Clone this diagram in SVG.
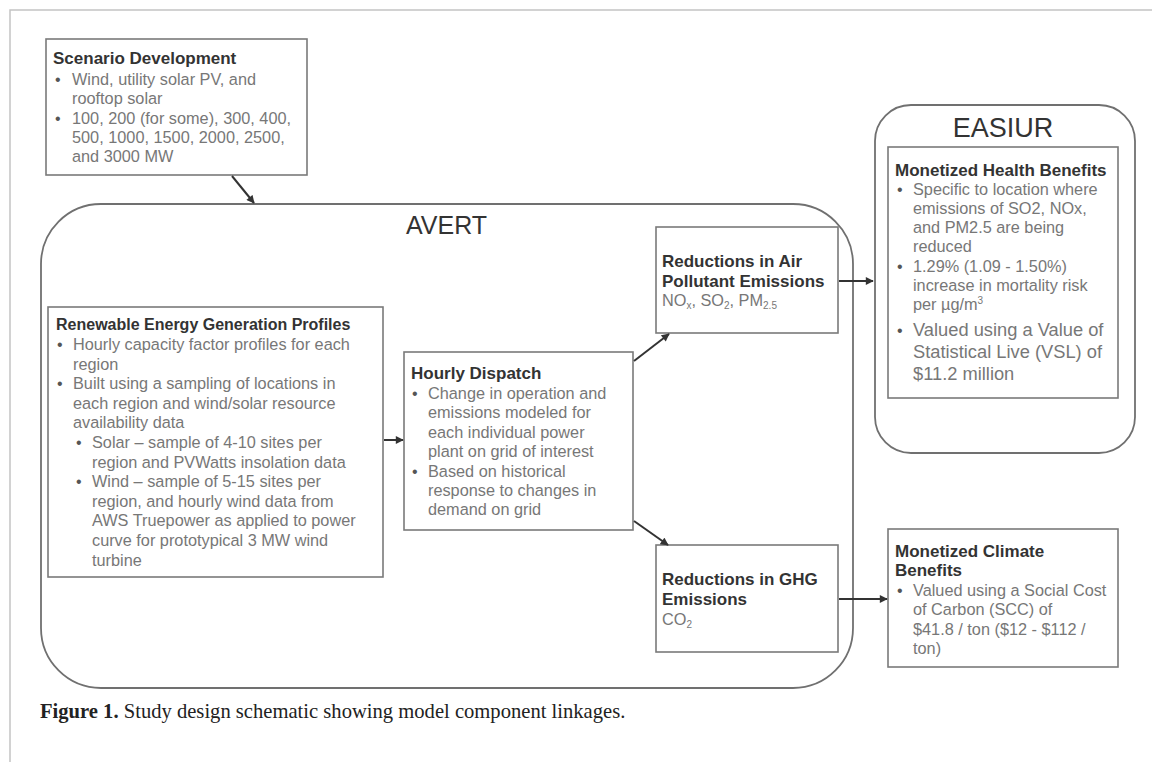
<svg xmlns="http://www.w3.org/2000/svg" width="1152" height="762" viewBox="0 0 1152 762">
<defs>
<marker id="arr" viewBox="0 0 10 10" refX="9" refY="5" markerWidth="9" markerHeight="8" markerUnits="userSpaceOnUse" orient="auto">
<path d="M0,0 L10,5 L0,10 Z" fill="#333"/>
</marker>
<style>
.frame{fill:none;stroke:#c4c4c4;stroke-width:1.5}
.box{fill:#fff;stroke:#7a7a7a;stroke-width:1.6}
.group{fill:none;stroke:#707070;stroke-width:1.8}
.t{font-family:"Liberation Sans",Arial,sans-serif;font-weight:bold;font-size:17px;fill:#333}
.b{font-family:"Liberation Sans",Arial,sans-serif;font-size:16.3px;fill:#777}
.bl{font-family:"Liberation Sans",Arial,sans-serif;font-size:16px;fill:#555}
.big{font-family:"Liberation Sans",Arial,sans-serif;font-size:26px;fill:#333}
.con{stroke:#333;stroke-width:2;fill:none;marker-end:url(#arr)}
.cap{font-family:"Liberation Serif","Times New Roman",serif;font-size:20.6px;fill:#222}
</style>
</defs>
<rect width="1152" height="762" fill="#fff"/>
<path class="frame" d="M10,762 V10 H1152"/>

<g id="avert">
<rect class="group" x="41" y="204" width="812" height="484" rx="60" ry="60"/>
<text class="big" x="406" y="234" style="font-size:25px">AVERT</text>
</g>

<g id="easiur">
<rect class="group" x="875" y="105" width="260" height="348" rx="36" ry="36"/>
<text class="big" x="1003" y="137" text-anchor="middle" style="font-size:27px">EASIUR</text>
</g>

<g id="scenario">
<rect class="box" x="46" y="39" width="261" height="136"/>
<text class="t" x="53" y="64">Scenario Development</text>
<text class="bl" x="55" y="85">•</text>
<text class="b" x="72" y="85">Wind, utility solar PV, and</text>
<text class="b" x="72" y="104">rooftop solar</text>
<text class="bl" x="55" y="124">•</text>
<text class="b" x="72" y="124">100, 200 (for some), 300, 400,</text>
<text class="b" x="72" y="143">500, 1000, 1500, 2000, 2500,</text>
<text class="b" x="72" y="162">and 3000 MW</text>
</g>

<g id="renewable">
<rect class="box" x="48" y="307" width="335" height="270"/>
<text class="t" x="56" y="330" style="font-size:16px">Renewable Energy Generation Profiles</text>
<text class="bl" x="57" y="350">•</text>
<text class="b" x="73" y="350">Hourly capacity factor profiles for each</text>
<text class="b" x="73" y="369.6">region</text>
<text class="bl" x="57" y="389.2">•</text>
<text class="b" x="73" y="389.2">Built using a sampling of locations in</text>
<text class="b" x="73" y="408.8">each region and wind/solar resource</text>
<text class="b" x="73" y="428.4">availability data</text>
<text class="bl" x="76" y="448">•</text>
<text class="b" x="92" y="448">Solar – sample of 4-10 sites per</text>
<text class="b" x="92" y="467.6">region and PVWatts insolation data</text>
<text class="bl" x="76" y="487.2">•</text>
<text class="b" x="92" y="487.2">Wind – sample of 5-15 sites per</text>
<text class="b" x="92" y="506.8">region, and hourly wind data from</text>
<text class="b" x="92" y="526.4">AWS Truepower as applied to power</text>
<text class="b" x="92" y="546">curve for prototypical 3 MW wind</text>
<text class="b" x="92" y="565.6">turbine</text>
</g>

<g id="dispatch">
<rect class="box" x="404" y="352" width="229" height="178"/>
<text class="t" x="411" y="379">Hourly Dispatch</text>
<text class="bl" x="412" y="399">•</text>
<text class="b" x="428" y="399">Change in operation and</text>
<text class="b" x="428" y="418">emissions modeled for</text>
<text class="b" x="428" y="438">each individual power</text>
<text class="b" x="428" y="457">plant on grid of interest</text>
<text class="bl" x="412" y="477">•</text>
<text class="b" x="428" y="477">Based on historical</text>
<text class="b" x="428" y="496">response to changes in</text>
<text class="b" x="428" y="515">demand on grid</text>
</g>

<g id="air">
<rect class="box" x="656" y="227" width="182" height="106"/>
<text class="t" x="662" y="267">Reductions in Air</text>
<text class="t" x="662" y="287">Pollutant Emissions</text>
<text class="b" x="662" y="306">NO<tspan font-size="10" dy="3">x</tspan><tspan dy="-3">, SO</tspan><tspan font-size="10" dy="3">2</tspan><tspan dy="-3">, PM</tspan><tspan font-size="10" dy="3">2.5</tspan></text>
</g>

<g id="ghg">
<rect class="box" x="656" y="545" width="182" height="107"/>
<text class="t" x="662" y="585">Reductions in GHG</text>
<text class="t" x="662" y="605">Emissions</text>
<text class="b" x="662" y="625">CO<tspan font-size="10" dy="3">2</tspan></text>
</g>

<g id="health">
<rect class="box" x="888" y="147" width="230" height="251"/>
<text class="t" x="895" y="176">Monetized Health Benefits</text>
<text class="bl" x="897" y="195">•</text>
<text class="b" x="913" y="195">Specific to location where</text>
<text class="b" x="913" y="214">emissions of SO2, NOx,</text>
<text class="b" x="913" y="233">and PM2.5 are being</text>
<text class="b" x="913" y="252">reduced</text>
<text class="bl" x="897" y="272">•</text>
<text class="b" x="913" y="272">1.29% (1.09 - 1.50%)</text>
<text class="b" x="913" y="291">increase in mortality risk</text>
<text class="b" x="913" y="310">per µg/m<tspan font-size="10" dy="-6">3</tspan></text>
<text class="bl" x="897" y="336">•</text>
<text class="b" x="913" y="336" style="font-size:18.3px">Valued using a Value of</text>
<text class="b" x="913" y="358" style="font-size:18.3px">Statistical Live (VSL) of</text>
<text class="b" x="913" y="380" style="font-size:18.3px">$11.2 million</text>
</g>

<g id="climate">
<rect class="box" x="888" y="529" width="230" height="138"/>
<text class="t" x="895" y="557">Monetized Climate</text>
<text class="t" x="895" y="576">Benefits</text>
<text class="bl" x="897" y="596">•</text>
<text class="b" x="913" y="596">Valued using a Social Cost</text>
<text class="b" x="913" y="615">of Carbon (SCC) of</text>
<text class="b" x="913" y="635">$41.8 / ton ($12 - $112 /</text>
<text class="b" x="913" y="654">ton)</text>
</g>

<g id="connectors">
<line class="con" x1="232" y1="176" x2="254" y2="203"/>
<line class="con" x1="384" y1="440" x2="403" y2="440"/>
<line class="con" x1="634" y1="361" x2="669" y2="334"/>
<line class="con" x1="634" y1="521" x2="668" y2="545"/>
<line class="con" x1="839" y1="281" x2="873" y2="281"/>
<line class="con" x1="839" y1="599" x2="887" y2="599"/>
</g>

<text class="cap" x="40" y="718"><tspan font-weight="bold">Figure 1.</tspan> Study design schematic showing model component linkages.</text>
</svg>
